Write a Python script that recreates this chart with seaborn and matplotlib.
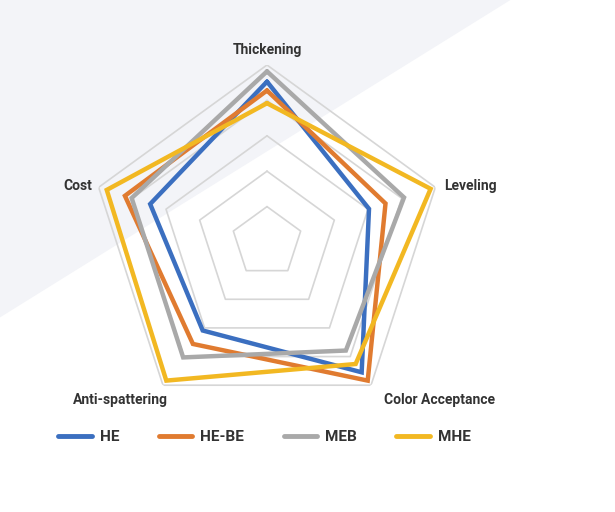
import numpy as np
import matplotlib
matplotlib.use('Agg')
import matplotlib.pyplot as plt
from matplotlib.patches import Polygon
from matplotlib.lines import Line2D
import seaborn as sns

categories = ["Thickening", "Leveling", "Color Acceptance", "Anti-spattering", "Cost"]
series = ["HE", "HE-BE", "MEB", "MHE"]
he = [4.53, 3.03, 4.55, 3.09, 3.47]
he_be = [4.28, 3.52, 4.84, 3.56, 4.22]
meb = [4.82, 4.07, 3.79, 4.03, 4.02]
mhe = [3.92, 4.86, 4.26, 4.84, 4.76]
grid_levels = [1, 2, 3, 4, 5]
colors = ["#3B6FC0", "#E07B30", "#A9A9A9", "#F2B822"]

sns.set_theme(style="white")
plt.rcParams['font.family'] = ['Roboto', 'DejaVu Sans']

W, H = 615, 512
fig = plt.figure(figsize=(W / 100, H / 100), dpi=100)
fig.patch.set_facecolor("white")

# soft grey background band in the upper left, behind everything
bg = fig.add_axes([0, 0, 1, 1], zorder=-5)
bg.set_axis_off()
bg.set_xlim(0, 1)
bg.set_ylim(0, 1)
bg.add_patch(Polygon([[0, 1], [0.83, 1], [0, 0.38]], closed=True,
                     facecolor="#F3F4F8", edgecolor="none"))

cx, cy, R = 267, 242, 177
ax = fig.add_axes([(cx - R) / W, (H - cy - R) / H, 2 * R / W, 2 * R / H],
                  projection="polar")
ax.patch.set_alpha(0)
ax.set_theta_offset(np.pi / 2)
ax.set_theta_direction(-1)
ax.set_ylim(0, 5)
ax.grid(False)
ax.spines["polar"].set_visible(False)
ax.set_xticks([])
ax.set_yticks([])

angles = np.linspace(0, 2 * np.pi, len(categories), endpoint=False)
closed = np.concatenate([angles, angles[:1]])
for lv in grid_levels:
    ax.plot(closed, [lv] * len(closed), color="#D6D6D6", lw=1.2, zorder=1)

for name, vals, c in zip(series, [he, he_be, meb, mhe], colors):
    ax.plot(closed, list(vals) + [vals[0]], color=c, lw=3.2, zorder=3,
            solid_joinstyle="miter")

label_pos = [(267, 50), (470, 186), (440, 400), (120, 400), (78, 186)]
for lab, (x, y) in zip(categories, label_pos):
    fig.text(x / W, 1 - y / H, lab, ha="center", va="center",
             fontsize=10, color="#333333", fontweight="bold")

handles = [Line2D([0], [0], color=c, lw=3.5) for c in colors]
fig.legend(handles, series, loc="center", bbox_to_anchor=(0.43, 1 - 437 / H),
           ncol=4, frameon=False, fontsize=11, handlelength=2.2,
           handletextpad=0.5, columnspacing=2.6, labelcolor="#333333",
           prop={"weight": "bold", "size": 11})

fig.savefig("out.png", dpi=100)
